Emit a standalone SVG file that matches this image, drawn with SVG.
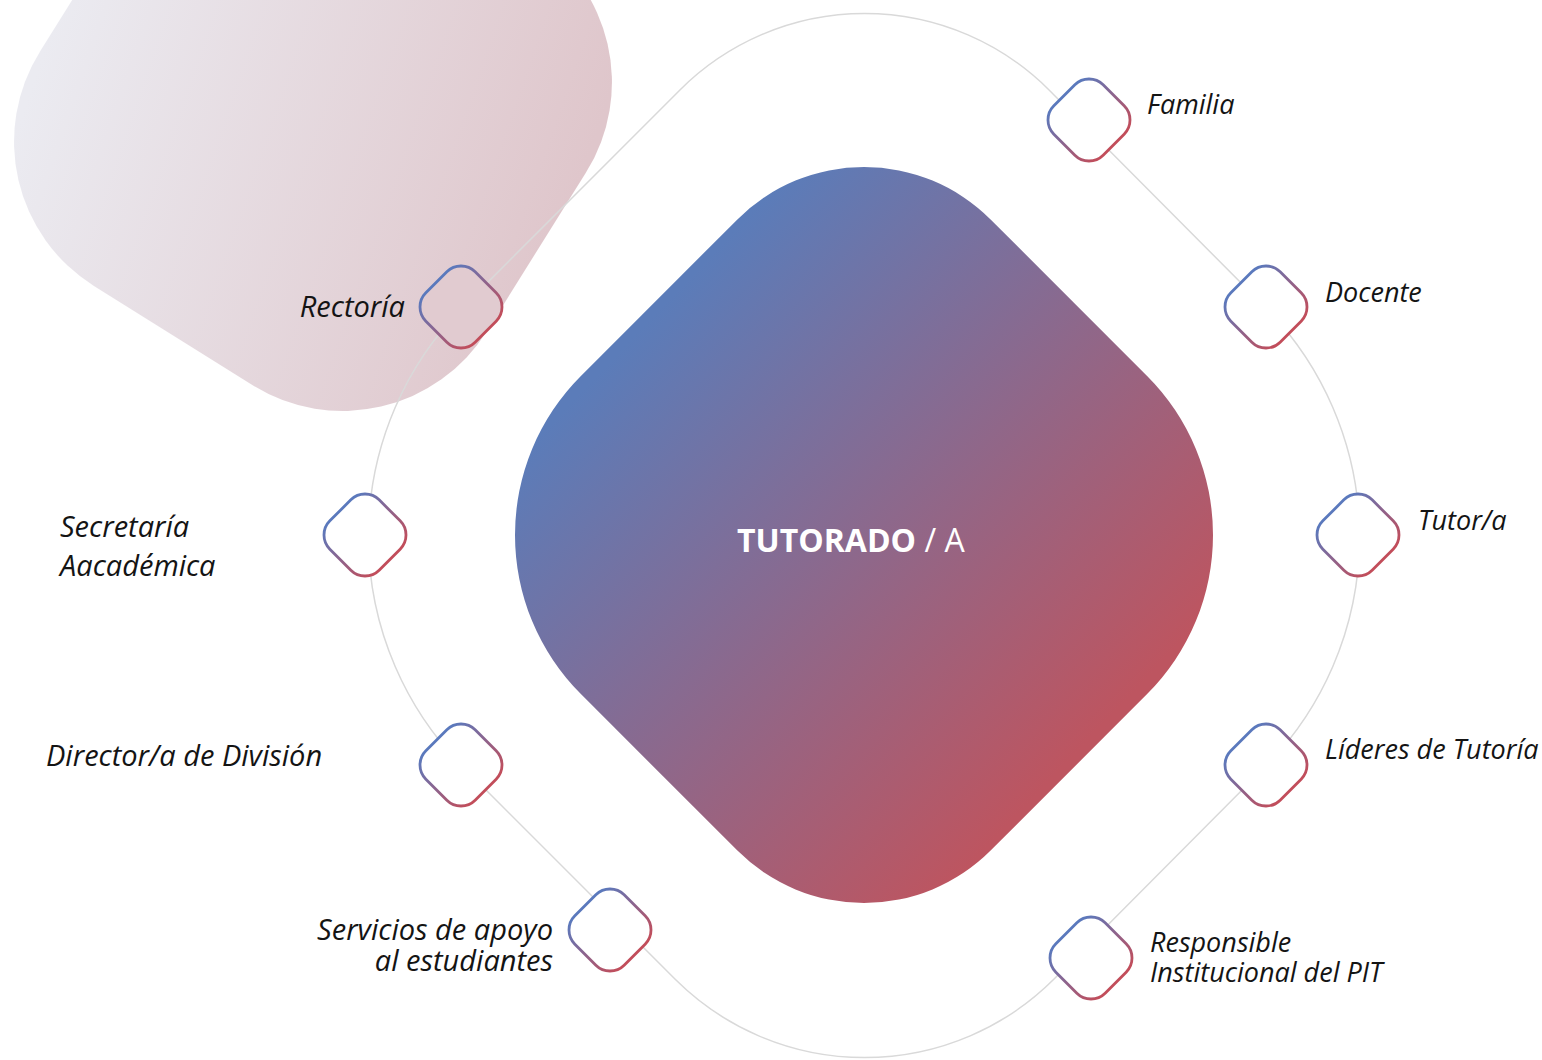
<svg xmlns="http://www.w3.org/2000/svg" xmlns:xlink="http://www.w3.org/1999/xlink" width="1542" height="1060" viewBox="0 0 1542 1060">
  <defs>
    <linearGradient id="blobGrad" gradientUnits="userSpaceOnUse" x1="40" y1="60" x2="560" y2="240">
      <stop offset="0" stop-color="#ebebf1"/>
      <stop offset="1" stop-color="#dfc6cb"/>
    </linearGradient>
    <linearGradient id="centerGrad" x1="0.2" y1="0.2" x2="0.8" y2="0.8">
      <stop offset="0" stop-color="#5b7cb9"/>
      <stop offset="1" stop-color="#bd5560"/>
    </linearGradient>
    <linearGradient id="nodeGrad" x1="0.2" y1="0.2" x2="0.8" y2="0.8">
      <stop offset="0" stop-color="#5a79bd"/>
      <stop offset="1" stop-color="#c24d5a"/>
    </linearGradient>
    <path id="nodeShape" d="M -14.14 -35.14 A 20 20 0 0 1 14.14 -35.14 L 35.14 -14.14 A 20 20 0 0 1 35.14 14.14 L 14.14 35.14 A 20 20 0 0 1 -14.14 35.14 L -35.14 14.14 A 20 20 0 0 1 -35.14 -14.14 Z"/>
  </defs>
  <style>
    .node { fill: #ffffff; stroke: url(#nodeGrad); stroke-width: 2.8; }
    .lbl { font-family: "Open Sans", "Noto Sans", sans-serif; font-style: italic; fill: #141414; }
    .r { font-size: 27px; }
    .l { font-size: 29px; }
    .conn { fill: none; stroke: #d9d9d9; stroke-width: 1.5; }
  </style>

  <g id="background-blob">
    <path d="M 373.31 -161.13 L 532.05 -61.93 A 170 170 0 0 1 586.13 172.31 L 486.93 331.05 A 170 170 0 0 1 252.69 385.13 L 93.95 285.93 A 170 170 0 0 1 39.87 51.69 L 139.07 -107.05 A 170 170 0 0 1 373.31 -161.13 Z" fill="url(#blobGrad)"/>
  </g>

  <g id="connectors">
    <path class="conn" d="M 680.2 89.7 A 261 261 0 0 1 1048.8 89.7 L 1264 306 A 327 327 0 0 1 1264 768 L 1053.8 979.3 A 268 268 0 0 1 675.2 979.3 L 464 768 A 327 327 0 0 1 464 306 Z"/>
  </g>

  <g id="tutorado">
    <path d="M 737.4 219.4 A 179 179 0 0 1 990.6 219.4 L 1147.1 375.9 A 225 225 0 0 1 1147.1 694.1 L 990.6 850.6 A 179 179 0 0 1 737.4 850.6 L 580.9 694.1 A 225 225 0 0 1 580.9 375.9 Z" fill="url(#centerGrad)"/>
    <text x="737" y="552" font-family="'Open Sans', 'Noto Sans', sans-serif" font-size="32" fill="#ffffff"><tspan font-weight="bold">TUTORADO</tspan><tspan> / A</tspan></text>
  </g>

  <g id="familia">
    <use xlink:href="#nodeShape" href="#nodeShape" class="node" transform="translate(1089,120)"/>
    <text class="lbl r" x="1147" y="114">Familia</text>
  </g>
  <g id="docente">
    <use xlink:href="#nodeShape" href="#nodeShape" class="node" transform="translate(1266,307)"/>
    <text class="lbl r" x="1325" y="302">Docente</text>
  </g>
  <g id="tutor">
    <use xlink:href="#nodeShape" href="#nodeShape" class="node" transform="translate(1358,535)"/>
    <text class="lbl r" x="1418" y="530">Tutor/a</text>
  </g>
  <g id="lideres">
    <use xlink:href="#nodeShape" href="#nodeShape" class="node" transform="translate(1266,765)"/>
    <text class="lbl r" x="1325" y="759">Líderes de Tutoría</text>
  </g>
  <g id="responsible">
    <use xlink:href="#nodeShape" href="#nodeShape" class="node" transform="translate(1091,958)"/>
    <text class="lbl r" x="1150" y="952">Responsible<tspan x="1150" dy="30">Institucional del PIT</tspan></text>
  </g>
  <g id="rectoria">
    <use xlink:href="#nodeShape" href="#nodeShape" class="node" style="fill:#e1cbd0" transform="translate(461,307)"/>
    <text class="lbl l" x="405" y="317" text-anchor="end">Rectoría</text>
  </g>
  <g id="secretaria">
    <use xlink:href="#nodeShape" href="#nodeShape" class="node" transform="translate(365,535)"/>
    <text class="lbl l" x="60" y="537">Secretaría<tspan x="60" dy="39">Aacadémica</tspan></text>
  </g>
  <g id="director">
    <use xlink:href="#nodeShape" href="#nodeShape" class="node" transform="translate(461,765)"/>
    <text class="lbl l" x="46" y="766">Director/a de División</text>
  </g>
  <g id="servicios">
    <use xlink:href="#nodeShape" href="#nodeShape" class="node" transform="translate(610,930)"/>
    <text class="lbl l" x="553" y="940" text-anchor="end">Servicios de apoyo<tspan x="553" dy="31">al estudiantes</tspan></text>
  </g>
</svg>
